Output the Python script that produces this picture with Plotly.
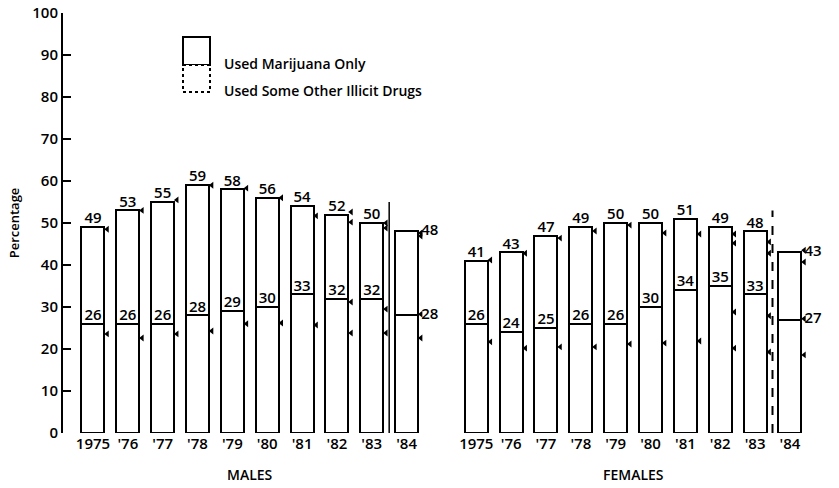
import plotly.graph_objects as go

years = ["1975", "'76", "'77", "'78", "'79", "'80", "'81", "'82", "'83", "'84"]
males_total = [49, 53, 55, 59, 58, 56, 54, 52, 50, 48]
males_other = [26, 26, 26, 28, 29, 30, 33, 32, 32, 28]
females_total = [41, 43, 47, 49, 50, 50, 51, 49, 48, 43]
females_other = [26, 24, 25, 26, 26, 30, 34, 35, 33, 27]
group_labels = ["MALES", "FEMALES"]

# small side markers
males_mark_top = [48.5, 53, 55.5, 59, 58.3, 56, 51.7, 52.6, 50, 47.6]
males_mark_low = [23.6, 22.6, 23.6, 24.3, 26, 26.2, 25.7, 31.2, 29.5, 28.3]
males_mark_extra_years = [7, 8, 9]
males_mark_top2 = [50.2, 48.8, 46.9]
males_mark_low2 = [23.8, 23.8, 22.6]
females_mark_top = [41.2, 42.8, 46.4, 48.1, 49.5, 47.6, 47.4, 47.4, 45.5, 43.5]
females_mark_low = [21.7, 20.2, 20.5, 20.5, 21.2, 21.4, 21.9, 28.8, 27.9, 27.2]
females_mark_top2 = [45.2, 42.8, 40.7]
females_mark_low2 = [20.2, 19.3, 18.6]

FONT = "Open Sans"
TF = dict(family=FONT, size=15, color="black", weight=600)
male_x = list(range(10))
female_x = [i + 11 for i in range(10)]
xs = male_x + female_x
others = males_other + females_other
totals = males_total + females_total
marij = [t - o for t, o in zip(totals, others)]

fig = go.Figure()
line = dict(color="black", width=2)
fig.add_trace(go.Bar(x=xs, y=others, width=0.66, marker=dict(color="white", line=line),
                     showlegend=False, hoverinfo="skip"))
fig.add_trace(go.Bar(x=xs, y=marij, width=0.66, marker=dict(color="white", line=line),
                     showlegend=False, hoverinfo="skip"))

# side markers
mx = [x + 0.41 for x in xs]
mx2 = [male_x[i] + 0.41 for i in males_mark_extra_years] + [female_x[i] + 0.41 for i in males_mark_extra_years]
fig.add_trace(go.Scatter(
    x=mx + mx + mx2 + mx2,
    y=males_mark_top + females_mark_top + males_mark_low + females_mark_low
      + males_mark_top2 + females_mark_top2 + males_mark_low2 + females_mark_low2,
    mode="markers", marker=dict(symbol="triangle-left", size=6, color="black"),
    showlegend=False, hoverinfo="skip"))

# value labels
inside_idx = [i for i in range(20) if i not in (9, 19)]
fig.add_trace(go.Scatter(x=[xs[i] for i in inside_idx], y=[totals[i] for i in inside_idx],
                         text=[str(totals[i]) for i in inside_idx], mode="text",
                         textposition="top center", textfont=TF,
                         showlegend=False, hoverinfo="skip"))
fig.add_trace(go.Scatter(x=[xs[i] for i in inside_idx], y=[others[i] for i in inside_idx],
                         text=[str(others[i]) for i in inside_idx], mode="text",
                         textposition="top center", textfont=TF,
                         showlegend=False, hoverinfo="skip"))
side_idx = [9, 19]
fig.add_trace(go.Scatter(x=[xs[i] + 0.42 for i in side_idx] * 2,
                         y=[totals[i] for i in side_idx] + [others[i] for i in side_idx],
                         text=[str(totals[i]) for i in side_idx] + [str(others[i]) for i in side_idx],
                         mode="text", textposition="middle right", textfont=TF,
                         showlegend=False, hoverinfo="skip"))

# divider lines before 1984
fig.add_shape(type="line", x0=8.5, x1=8.5, y0=0, y1=55, line=dict(color="black", width=1.5))
fig.add_shape(type="line", x0=19.5, x1=19.5, y0=0, y1=53, line=dict(color="black", width=2, dash="dash"))

# legend (drawn); plot area spans px 63..830 (x) and 13..433 (y)
def px(xp):
    return (xp - 63) / 767

def py(yp):
    return (433 - yp) / 420

fig.add_shape(type="rect", xref="paper", yref="paper", x0=px(183), x1=px(210),
              y0=py(65), y1=py(37), line=dict(color="black", width=2), fillcolor="white")
fig.add_shape(type="rect", xref="paper", yref="paper", x0=px(183), x1=px(210),
              y0=py(92), y1=py(65), line=dict(color="black", width=2, dash="dot"), fillcolor="white")
LF = dict(family=FONT, size=14, color="black", weight=600)
fig.add_annotation(xref="paper", yref="paper", x=px(222), y=py(52), xanchor="left",
                   text="Used Marijuana Only", showarrow=False, font=LF)
fig.add_annotation(xref="paper", yref="paper", x=px(222), y=py(79), xanchor="left",
                   text="Used Some Other Illicit Drugs", showarrow=False, font=LF)

# group labels
GF = dict(family=FONT, size=14, color="black", weight=600)
fig.add_annotation(x=4.5, y=0, yref="paper", yshift=-53, text=group_labels[0], showarrow=False, font=GF)
fig.add_annotation(x=15.5, y=0, yref="paper", yshift=-53, text=group_labels[1], showarrow=False, font=GF)

fig.update_layout(
    width=839, height=488, margin=dict(l=63, r=9, t=13, b=55),
    plot_bgcolor="white", paper_bgcolor="white", barmode="stack", bargap=0,
    font=dict(family=FONT, color="black"),
)
fig.update_xaxes(range=[-0.86, 21.15], tickmode="array", tickvals=xs, ticktext=years * 2,
                 showgrid=False, zeroline=False, showline=False, ticks="", automargin=False,
                 tickfont=TF)
fig.update_yaxes(range=[0, 100], tickvals=list(range(0, 101, 10)), showgrid=False, zeroline=False,
                 showline=True, linecolor="black", linewidth=2, ticks="inside", ticklen=8,
                 tickwidth=2, tickcolor="black", tickfont=TF, automargin=False,
                 ticklabeloverflow="allow",
                 title=dict(text="Percentage", font=dict(family=FONT, size=13, color="black", weight=600),
                            standoff=10))
fig.write_html("out.html", config={"displayModeBar": False},
               post_script="document.body.style.margin='0';")
